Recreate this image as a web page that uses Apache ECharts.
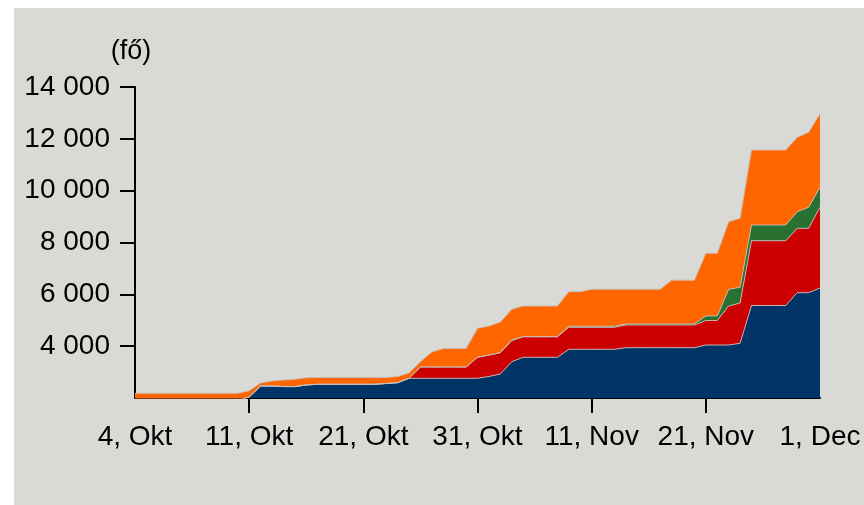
<!DOCTYPE html>
<html>
<head>
<meta charset="utf-8">
<script src="https://cdn.jsdelivr.net/npm/echarts@6/dist/echarts.min.js"></script>
<style>
  html, body { margin: 0; padding: 0; background: #ffffff; }
  #main { position: absolute; left: 14px; top: 8px; width: 850px; height: 497px; background: #d9d9d5; }
</style>
</head>
<body>
<div id="main"></div>
<script>
// tengely feliratok (minden 10. pontnál)
const tickLabels = ['4, Okt', '11, Okt', '21, Okt', '31, Okt', '11, Nov', '21, Nov', '1, Dec']

// sorozatok, napi pontok (61 db)
const navy = [
  1900, 1900, 1900, 1900, 1900, 1900, 1900, 1900, 1900, 1900,
  2040, 2463, 2463, 2440, 2440, 2502, 2529, 2529, 2529, 2529,
  2529, 2529, 2560, 2590, 2760, 2760, 2760, 2760, 2760, 2760,
  2760, 2830, 2926, 3401, 3570, 3570, 3570, 3570, 3879, 3879,
  3879, 3879, 3879, 3941, 3941, 3941, 3941, 3941, 3941, 3941,
  4045, 4045, 4045, 4111, 5569, 5569, 5569, 5569, 6063, 6063,
  6244
]
const red = [
  0, 0, 0, 0, 0, 0, 0, 0, 0, 0,
  0, 0, 0, 0, 0, 0, 0, 0, 0, 0,
  0, 0, 0, 0, 0, 436, 436, 436, 436, 436,
  810, 829, 823, 810, 795, 795, 795, 795, 849, 849,
  849, 849, 849, 876, 876, 876, 876, 876, 876, 876,
  945, 945, 1505, 1555, 2500, 2500, 2500, 2500, 2485, 2485,
  3114
]
const green = [
  0, 0, 0, 0, 0, 0, 0, 0, 0, 0,
  0, 0, 0, 0, 0, 0, 0, 0, 0, 0,
  0, 0, 0, 0, 0, 0, 0, 0, 0, 0,
  0, 0, 0, 40, 0, 0, 0, 0, 40, 40,
  40, 40, 40, 40, 40, 40, 40, 40, 40, 40,
  175, 175, 645, 605, 605, 605, 605, 605, 640, 810,
  772
]
const orange = [
  281, 281, 281, 281, 281, 281, 281, 281, 281, 281,
  242, 116, 193, 255, 282, 281, 262, 262, 262, 262,
  262, 262, 231, 240, 205, 205, 579, 714, 714, 714,
  1120, 1119, 1183, 1171, 1185, 1185, 1185, 1185, 1334, 1334,
  1427, 1427, 1427, 1338, 1338, 1338, 1338, 1689, 1689, 1689,
  2422, 2422, 2607, 2663, 2895, 2895, 2895, 2895, 2871, 2894,
  2828
]

const colors = ['#003366', '#cc0000', '#2a7031', '#ff6600']
const font = '"Liberation Sans", Arial, sans-serif'
const days = navy.map((v, i) => String(i))

const myChart = echarts.init(document.getElementById('main'), null, { renderer: 'canvas' })

function mk(name, arr, color) {
    return {
        name: name,
        type: 'line',
        stack: 'total',
        showSymbol: false,
        symbol: 'none',
        clip: true,
        lineStyle: { color: 'rgba(200,190,185,0.9)', width: 1 },
        areaStyle: { color: color, opacity: 1 },
        data: arr
    }
}

const option = {
    animation: false,
    backgroundColor: 'transparent',
    grid: { left: 121, top: 79, right: 44, bottom: 107 },
    xAxis: {
        type: 'category',
        boundaryGap: false,
        data: days,
        axisLine: { show: true, lineStyle: { color: '#000', width: 2 } },
        axisTick: {
            show: true, length: 15,
            lineStyle: { color: '#000', width: 2 },
            interval: i => i % 10 === 0 && i > 0 && i < days.length - 1
        },
        axisLabel: {
            margin: 25,
            color: '#000',
            fontSize: 28,
            fontFamily: font,
            interval: i => i % 10 === 0,
            formatter: (v, i) => tickLabels[i / 10] || ''
        },
        splitLine: { show: false }
    },
    yAxis: {
        type: 'value',
        min: 2000,
        max: 14000,
        interval: 2000,
        name: '(fő)',
        nameLocation: 'end',
        nameGap: 22,
        nameTextStyle: { color: '#000', fontSize: 27, fontFamily: font, align: 'center', padding: [0, 8, 0, 0] },
        axisLine: { show: true, lineStyle: { color: '#000', width: 2 } },
        axisTick: { show: true, length: 15, lineStyle: { color: '#000', width: 2 }, customValues: [4000, 6000, 8000, 10000, 12000, 14000] },
        axisLabel: {
            margin: 25,
            color: '#000',
            fontSize: 28,
            fontFamily: font,
            customValues: [4000, 6000, 8000, 10000, 12000, 14000],
            formatter: v => String(v).replace(/\B(?=(\d{3})+(?!\d))/g, ' ')
        },
        splitLine: { show: false }
    },
    series: [
        mk('navy', navy, colors[0]),
        mk('red', red, colors[1]),
        mk('green', green, colors[2]),
        mk('orange', orange, colors[3])
    ]
}

myChart.setOption(option)
</script>
</body>
</html>
